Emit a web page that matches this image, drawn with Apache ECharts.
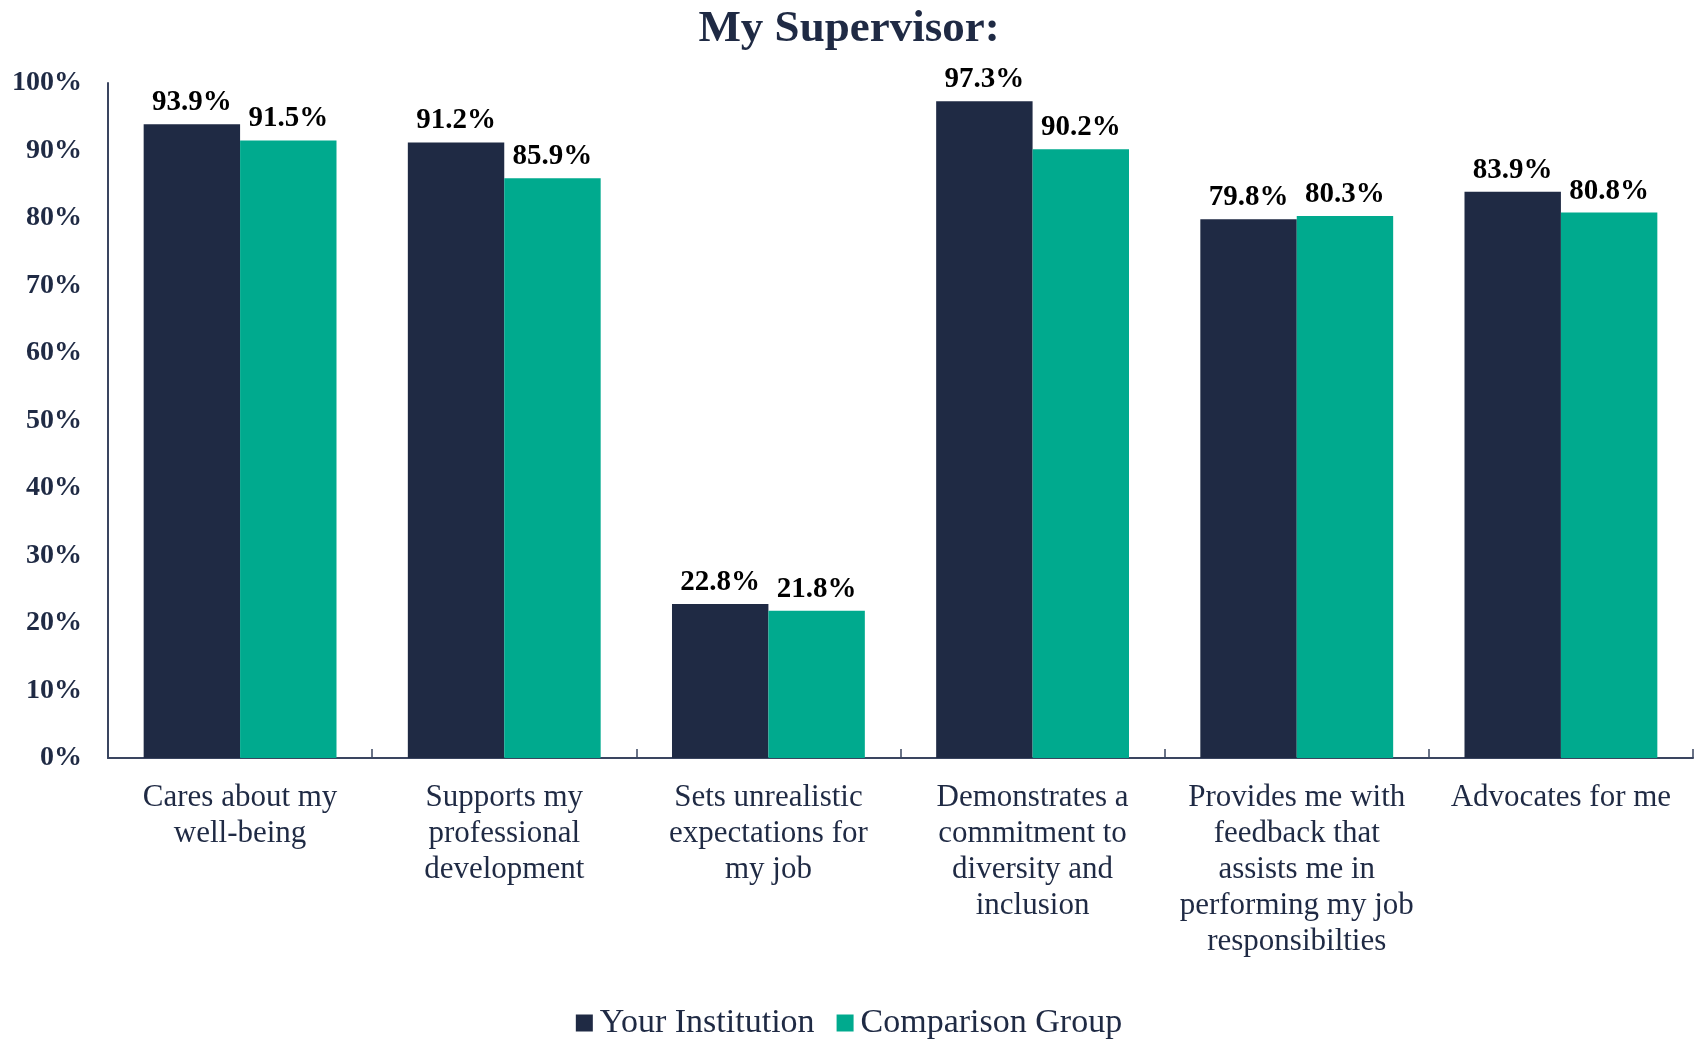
<!DOCTYPE html>
<html>
<head>
<meta charset="utf-8">
<title>My Supervisor</title>
<script src="https://cdn.jsdelivr.net/npm/echarts@6/dist/echarts.min.js"></script>
<style>
  html, body { margin: 0; padding: 0; background: #fff; }
  .chart_main { width: 1698px; height: 1041px; }
</style>
</head>
<body>
<div class="chart_main"></div>
<script>
// 类目 (换行与原图一致)
var categories = [
  'Cares about my\nwell-being',
  'Supports my\nprofessional\ndevelopment',
  'Sets unrealistic\nexpectations for\nmy job',
  'Demonstrates a\ncommitment to\ndiversity and\ninclusion',
  'Provides me with\nfeedback that\nassists me in\nperforming my job\nresponsibilties',
  'Advocates for me'
];
var seriesNames = ['Your Institution', 'Comparison Group'];
var institutionValues = [93.9, 91.2, 22.8, 97.3, 79.8, 83.9];
var comparisonValues = [91.5, 85.9, 21.8, 90.2, 80.3, 80.8];
var yTicks = [0, 10, 20, 30, 40, 50, 60, 70, 80, 90, 100];

var navy = '#1f2a44';
var teal = '#00aa8e';
var font = '"Liberation Serif", "DejaVu Serif", serif';

var chart = echarts.init(document.querySelector('.chart_main'));

var labelStyle = {
  show: true,
  position: 'top',
  distance: 7,
  formatter: function (p) { return p.value.toFixed(1) + '%'; },
  fontFamily: font,
  fontWeight: 'bold',
  fontSize: 29,
  color: '#000'
};

var option = {
  animation: false,
  title: {
    text: 'My Supervisor:',
    left: 'center',
    top: 2,
    textStyle: { fontFamily: font, fontWeight: 'bold', fontSize: 45, color: navy }
  },
  legend: {
    data: seriesNames,
    left: 'center',
    top: 1006,
    padding: 0,
    itemWidth: 17,
    itemHeight: 17,
    itemGap: 22,
    icon: 'rect',
    textStyle: { fontFamily: font, fontSize: 34, color: navy, padding: [0, 0, 0, 2] }
  },
  grid: { left: 108, right: 5, top: 83, bottom: 283, containLabel: false },
  xAxis: {
    type: 'category',
    data: categories,
    axisLine: { lineStyle: { color: '#3a4560', width: 2 } },
    axisTick: { show: true, inside: true, length: 9, lineStyle: { color: '#3a4560', width: 1.5 } },
    axisLabel: {
      interval: 0,
      margin: 22,
      fontFamily: font,
      fontSize: 31,
      lineHeight: 36,
      color: navy,
      align: 'center'
    }
  },
  yAxis: {
    type: 'value',
    min: yTicks[0],
    max: yTicks[yTicks.length - 1],
    interval: yTicks[1] - yTicks[0],
    splitLine: { show: false },
    axisLine: { show: true, lineStyle: { color: '#3a4560', width: 2 } },
    axisTick: { show: false },
    axisLabel: {
      margin: 26,
      formatter: '{value}%',
      fontFamily: font,
      fontWeight: 'bold',
      fontSize: 28,
      color: navy
    }
  },
  series: [
    {
      name: seriesNames[0],
      type: 'bar',
      data: institutionValues,
      barGap: '0%',
      barCategoryGap: '27%',
      itemStyle: { color: navy },
      label: labelStyle
    },
    {
      name: seriesNames[1],
      type: 'bar',
      data: comparisonValues,
      itemStyle: { color: teal },
      label: labelStyle
    }
  ]
};

chart.setOption(option);
</script>
</body>
</html>
